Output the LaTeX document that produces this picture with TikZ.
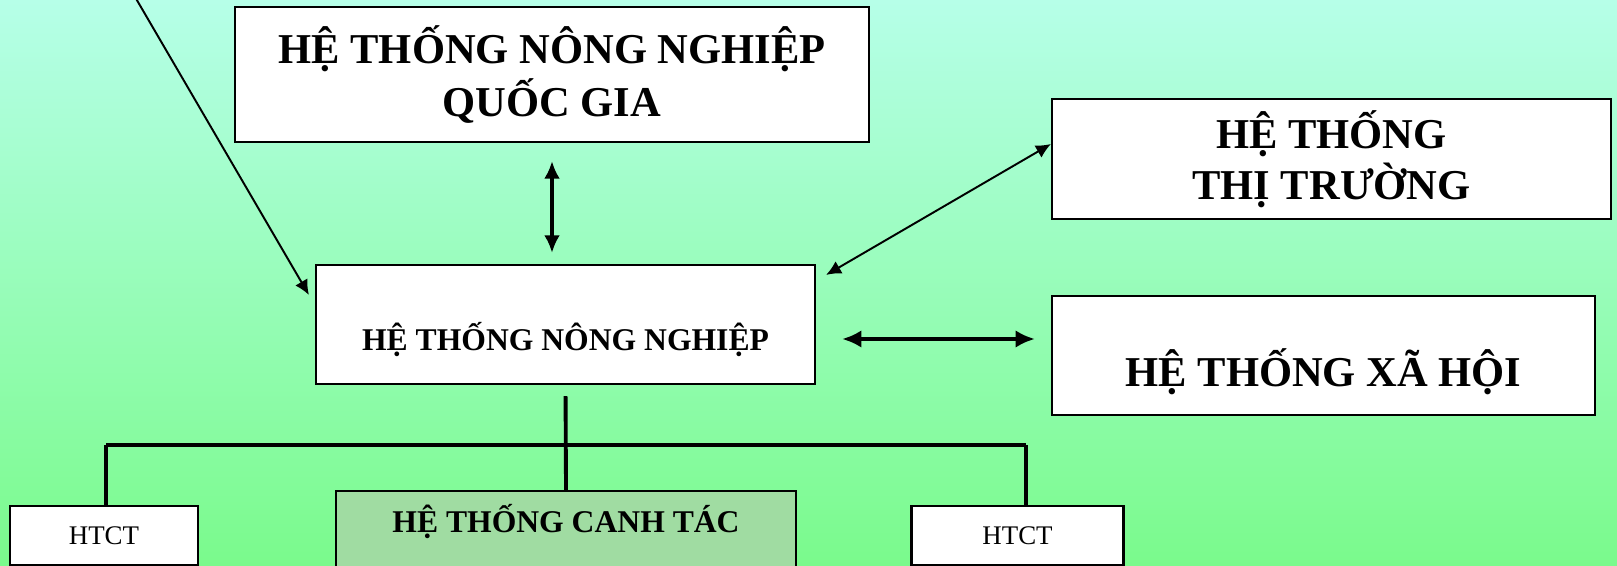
\documentclass[tikz,border=0pt]{standalone}
\usepackage{fontspec}
\setmainfont{Liberation Serif}
\usetikzlibrary{arrows.meta, positioning, calc}

\definecolor{bgtop}{RGB}{182,255,232}
\definecolor{bgmid}{RGB}{160,254,205}
\definecolor{bgbottom}{RGB}{122,250,140}
\definecolor{canhtacfill}{RGB}{160,220,162}

\begin{document}
\begin{tikzpicture}[
			% Define styles
			bigbox/.style={rectangle, draw=black, line width=1.2pt, fill=white, align=center, inner sep=0pt, font=\fontsize{24.2}{30.5}\selectfont\bfseries},
			midbox/.style={rectangle, draw=black, line width=1.2pt, fill=white, align=center, inner sep=0pt, font=\fontsize{18}{22}\selectfont\bfseries},
			htctbox/.style={rectangle, draw=black, line width=1.2pt, fill=white, align=center, inner sep=0pt, minimum height=1.18cm, font=\fontsize{15.3}{18}\selectfont},
			thinarrow/.style={-{Latex[length=8.5pt, width=8pt]}, line width=1.1pt, draw=black},
			thinboth/.style={{Latex[length=8.5pt, width=8pt]}-{Latex[length=8.5pt, width=8pt]}, line width=1.1pt, draw=black},
			bothway/.style={{Latex[length=10pt, width=9pt]}-{Latex[length=10pt, width=9pt]}, line width=2pt, draw=black},
			thickboth/.style={{Latex[length=11pt, width=10pt]}-{Latex[length=11pt, width=10pt]}, line width=2.8pt, draw=black},
			treeline/.style={line width=2.2pt, draw=black}
			]
			
			% Background
			\useasboundingbox (0,0) rectangle (32.34,11.32);
			\clip (0,0) rectangle (32.34,11.32);
			\shade[top color=bgtop, middle color=bgmid, bottom color=bgbottom] (0,0) rectangle (32.34,11.32);
			
			% Main nodes
			\node[bigbox, minimum width=12.68cm, minimum height=2.70cm] (qg) at (11.04,9.83) {HỆ THỐNG NÔNG NGHIỆP\\QUỐC GIA};
			\node[bigbox, minimum width=11.18cm, minimum height=2.40cm, font=\fontsize{24.2}{29}\selectfont\bfseries] (tt) at (26.63,8.14) {HỆ THỐNG\\THỊ TRƯỜNG};
			\node[midbox, minimum width=9.98cm, minimum height=2.38cm, text height=1.06cm, text depth=0pt] (nn) at (11.31,4.83) {HỆ THỐNG NÔNG NGHIỆP};
			\node[bigbox, minimum width=10.86cm, minimum height=2.38cm, text height=1.26cm, text depth=0pt] (xh) at (26.47,4.21) {HỆ THỐNG XÃ HỘI};
			
			% Sub-nodes
			\node[htctbox, minimum width=3.76cm] (htctl) at (2.08,0.61) {HTCT};
			\node[midbox, fill=canhtacfill, minimum width=9.2cm, anchor=north, inner ysep=0.13cm, text height=0.7cm, text depth=1.2cm] (ct) at (11.32,1.52) {HỆ THỐNG CANH TÁC};
			\node[htctbox, minimum width=4.24cm] (htctr) at (20.35,0.61) {HTCT};
			
			% Free ends
			\coordinate (outside) at (2.62,11.52);
			\coordinate (barleft) at (2.12,2.42);
			\coordinate (barright) at (20.52,2.42);
			\path (nn.east) ++(0.52,-0.29) coordinate (xhfrom);
			
			% Connections between systems
			\draw[thinarrow] (outside) -- ($(nn.west)+(-0.12,0.59)$);
			\draw[bothway, shorten <=0.36cm, shorten >=0.22cm] (qg.south) -- (qg.south |- nn.north);
			\draw[thinboth] ($(tt.west)+(0,0.30)$) -- ($(nn.north east)+(0.2,-0.22)$);
			\draw[thickboth, shorten >=0.32cm] (xhfrom) -- (xhfrom -| xh.west);
			
			% Tree below
			\draw[treeline, shorten <=0.22cm] (nn.south) -- (ct.north);
			\draw[treeline] (barleft) -- (barright);
			\draw[treeline] (barleft) -- (barleft |- htctl.north);
			\draw[treeline] (barright) -- (barright |- htctr.north);
			
		\end{tikzpicture}
\end{document}
